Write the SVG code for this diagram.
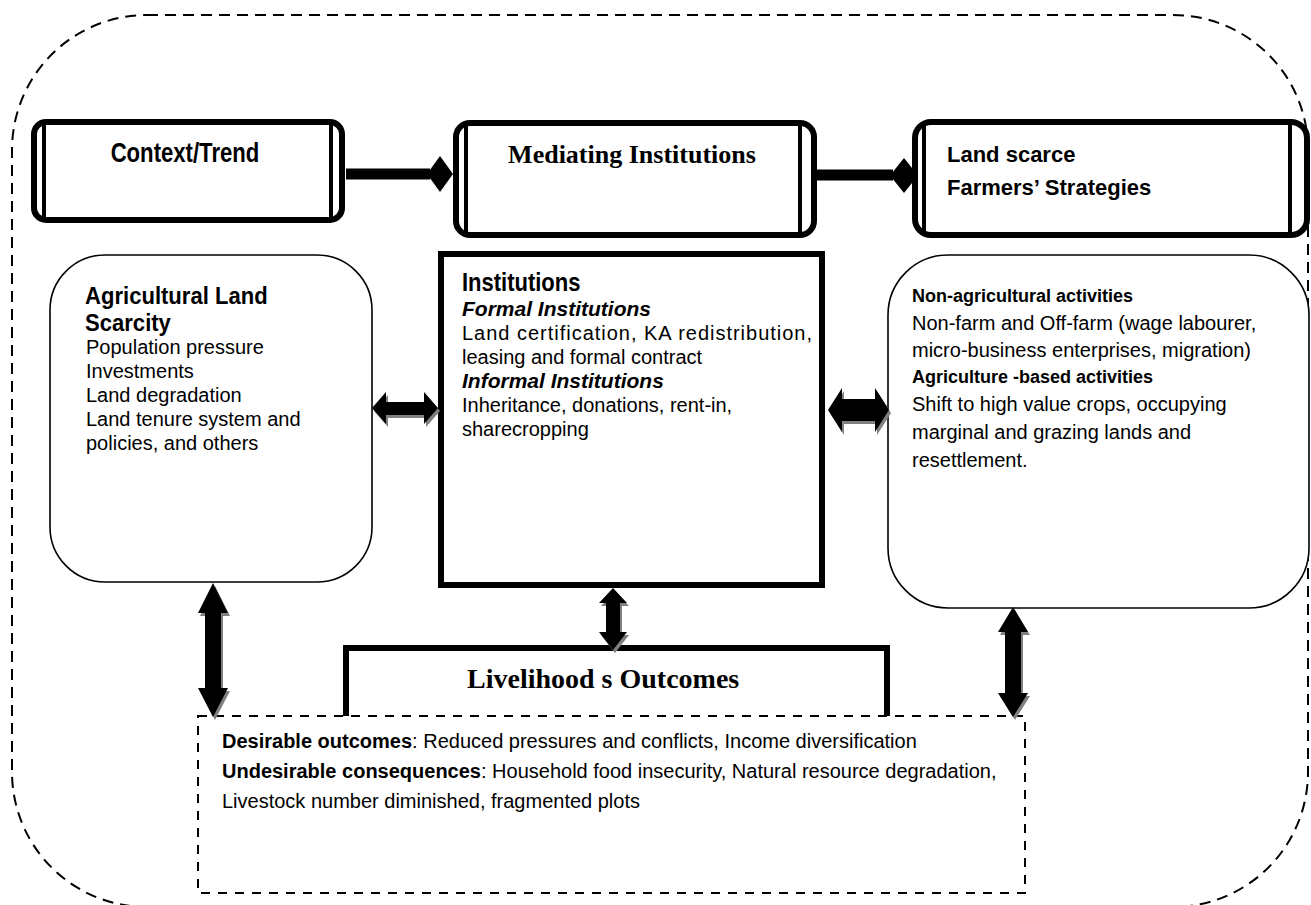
<svg xmlns="http://www.w3.org/2000/svg" width="1311" height="905" viewBox="0 0 1311 905">
<style>
.sans{font-family:"Liberation Sans",Arial,sans-serif;fill:#000}
.serif{font-family:"Liberation Serif","Times New Roman",serif;fill:#000}
.h22{font-size:22px;font-weight:bold}
.nar{font-size:27px;font-weight:bold}
.nar24{font-size:24px;font-weight:bold}
.t20{font-size:20px}
.b18{font-size:18px;font-weight:bold}
.bi{font-weight:bold;font-style:italic}
.thickbox{fill:#fff;stroke:#000;stroke-width:6}
.inner{stroke:#000;stroke-width:4}
.round{fill:#fff;stroke:#000;stroke-width:1.6}
.arrow{fill:#000}
.shadow{fill:#808080}
</style>
<rect width="1311" height="905" fill="#fff"/>
<g id="frame">
<rect x="12" y="15" width="1296" height="892" rx="135" ry="135" fill="none" stroke="#000" stroke-width="2" stroke-dasharray="11 7"/>
</g>
<g id="connectors">
<line x1="346" y1="174" x2="430" y2="174" stroke="#000" stroke-width="11"/>
<polygon points="427,174 440,156 453,174 440,192" fill="#000"/>
<line x1="817" y1="175" x2="893" y2="175" stroke="#000" stroke-width="11"/>
<polygon points="890,175.5 904,158 918,175.5 904,193" fill="#000"/>
</g>
<g id="node-context">
<rect class="thickbox" x="34" y="122" width="308" height="98" rx="12"/>
<line class="inner" x1="44" y1="122" x2="44" y2="220"/>
<line class="inner" x1="331" y1="122" x2="331" y2="220"/>
<text class="sans nar" transform="translate(185,162) scale(0.82,1)" text-anchor="middle">Context/Trend</text>
</g>
<g id="node-mediating">
<rect class="thickbox" x="456" y="123" width="358" height="112" rx="14"/>
<line class="inner" x1="466" y1="123" x2="466" y2="235"/>
<line class="inner" x1="800" y1="123" x2="800" y2="235"/>
<text class="serif" x="632" y="163" text-anchor="middle" font-size="26" font-weight="bold">Mediating Institutions</text>
</g>
<g id="node-strategies">
<rect class="thickbox" x="915" y="122" width="392" height="113" rx="16"/>
<line class="inner" x1="924" y1="122" x2="924" y2="235"/>
<line class="inner" x1="1290" y1="122" x2="1290" y2="235"/>
<text class="sans h22" x="947" y="162">Land scarce</text>
<text class="sans h22" x="947" y="195">Farmers’ Strategies</text>
</g>
<g id="node-scarcity">
<rect class="round" x="50" y="255" width="322" height="327" rx="55"/>
<text class="sans nar24" transform="translate(85,304) scale(0.92,1)">Agricultural Land</text>
<text class="sans nar24" transform="translate(85,331) scale(0.92,1)">Scarcity</text>
<text class="sans t20" x="86" y="354">Population pressure</text>
<text class="sans t20" x="86" y="378">Investments</text>
<text class="sans t20" x="86" y="402">Land degradation</text>
<text class="sans t20" x="86" y="426">Land tenure system and</text>
<text class="sans t20" x="86" y="450">policies, and others</text>
</g>
<g id="node-institutions">
<rect class="thickbox" x="441" y="254" width="381" height="331"/>
<text class="sans" transform="translate(462,291) scale(0.88,1)" font-size="25" font-weight="bold">Institutions</text>
<text class="sans bi" x="462" y="316" font-size="21">Formal Institutions</text>
<text class="sans t20" x="462" y="340" textLength="350" lengthAdjust="spacing">Land certification, KA redistribution,</text>
<text class="sans t20" x="462" y="364">leasing and formal contract</text>
<text class="sans bi" x="462" y="388" font-size="21">Informal Institutions</text>
<text class="sans t20" x="462" y="412">Inheritance, donations, rent-in,</text>
<text class="sans t20" x="462" y="436">sharecropping</text>
</g>
<g id="node-strategies-detail">
<rect class="round" x="888" y="255" width="421" height="353" rx="60"/>
<text class="sans b18" x="912" y="302">Non-agricultural activities</text>
<text class="sans t20" x="912" y="330">Non-farm and Off-farm (wage labourer,</text>
<text class="sans t20" x="912" y="357">micro-business enterprises, migration)</text>
<text class="sans b18" x="912" y="383">Agriculture -based activities</text>
<text class="sans t20" x="912" y="411">Shift to high value crops, occupying</text>
<text class="sans t20" x="912" y="439">marginal and grazing lands and</text>
<text class="sans t20" x="912" y="467">resettlement.</text>
</g>
<g id="node-outcomes-title">
<path d="M346,717 V648 H887 V717" fill="#fff" stroke="#000" stroke-width="6"/>
<text class="serif" x="467" y="688" font-size="28" font-weight="bold">Livelihood s Outcomes</text>
</g>
<g id="node-outcomes">
<rect x="198" y="716" width="827" height="177" fill="#fff" stroke="#000" stroke-width="2" stroke-dasharray="9 8"/>
<text class="sans t20" x="222" y="748"><tspan font-weight="bold">Desirable outcomes</tspan>: Reduced pressures and conflicts, Income diversification</text>
<text class="sans t20" x="222" y="778"><tspan font-weight="bold">Undesirable consequences</tspan>: Household food insecurity, Natural resource degradation,</text>
<text class="sans t20" x="222" y="808">Livestock number diminished, fragmented plots</text>
</g>
<g id="arrows">
<g transform="translate(2,3)">
<polygon class="shadow" points="372,408 386,392 386,402 424,402 424,392 438,408 424,424 424,415 386,415 386,424"/>
<polygon class="shadow" points="828,410 842,388 842,399 875,399 875,388 889,410 875,432 875,421 842,421 842,432"/>
<polygon class="shadow" points="213,583 228,613 221,613 221,688 228,688 213,717 198,688 205,688 205,613 198,613"/>
<polygon class="shadow" points="613,588 627,603 620,603 620,632 627,632 613,650 599,632 606,632 606,603 599,603"/>
<polygon class="shadow" points="1013,607 1028,632 1021,632 1021,693 1028,693 1013,717 998,693 1005,693 1005,632 998,632"/>
</g>
<polygon class="arrow" points="372,408 386,392 386,402 424,402 424,392 438,408 424,424 424,415 386,415 386,424"/>
<polygon class="arrow" points="828,410 842,388 842,399 875,399 875,388 889,410 875,432 875,421 842,421 842,432"/>
<polygon class="arrow" points="213,583 228,613 221,613 221,688 228,688 213,717 198,688 205,688 205,613 198,613"/>
<polygon class="arrow" points="613,588 627,603 620,603 620,632 627,632 613,650 599,632 606,632 606,603 599,603"/>
<polygon class="arrow" points="1013,607 1028,632 1021,632 1021,693 1028,693 1013,717 998,693 1005,693 1005,632 998,632"/>
</g>
</svg>
